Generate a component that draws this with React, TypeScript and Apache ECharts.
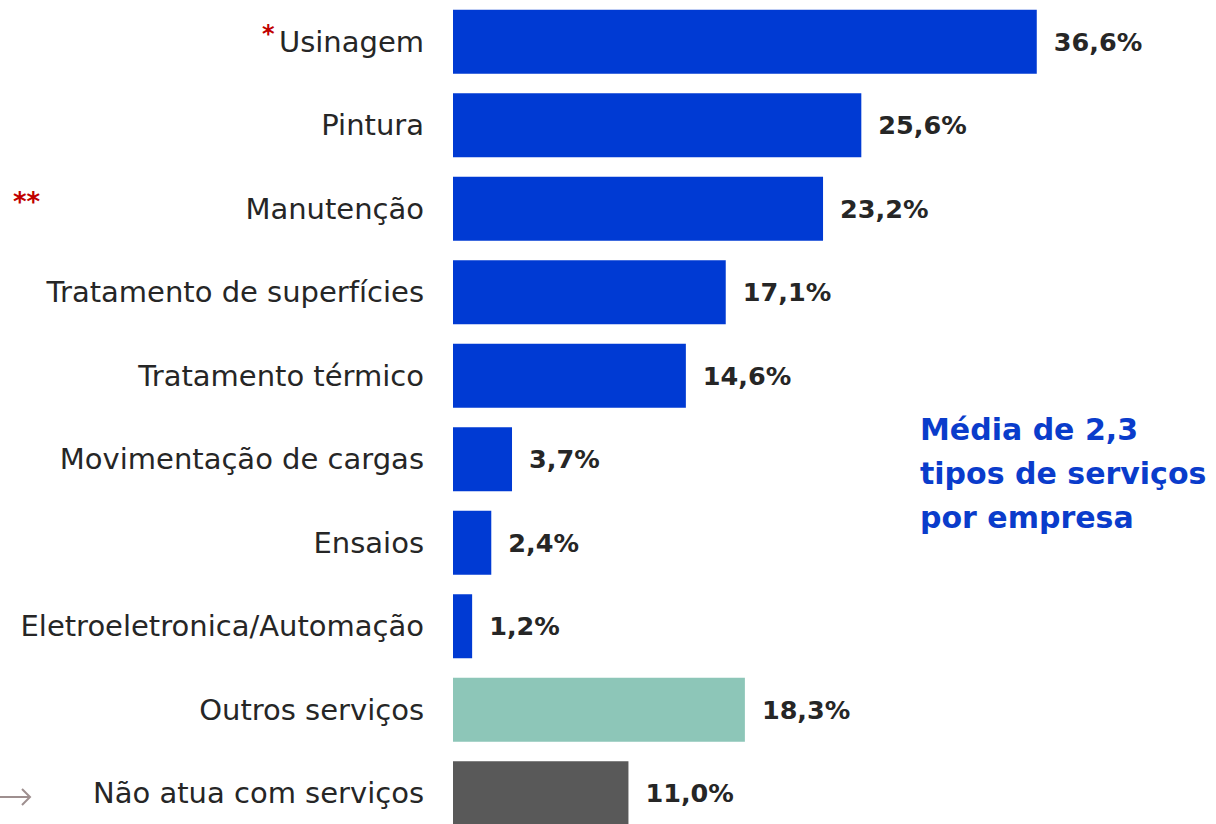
import React, { useEffect, useRef } from "react";
import * as echarts from "echarts";

const categories = [
  "Usinagem",
  "Pintura",
  "Manutenção",
  "Tratamento de superfícies",
  "Tratamento térmico",
  "Movimentação de cargas",
  "Ensaios",
  "Eletroeletronica/Automação",
  "Outros serviços",
  "Não atua com serviços",
];
const values = [36.6, 25.6, 23.2, 17.1, 14.6, 3.7, 2.4, 1.2, 18.3, 11.0];
const barColors = [
  "#003AD3", "#003AD3", "#003AD3", "#003AD3", "#003AD3",
  "#003AD3", "#003AD3", "#003AD3", "#8DC6B8", "#595959",
];
const noteLines = ["Média de 2,3", "tipos de serviços", "por empresa"];

const FONT = "'DejaVu Sans', sans-serif";

export default function App() {
  const ref = useRef<HTMLDivElement>(null);
  useEffect(() => {
    if (!ref.current) return;
    const chart = echarts.init(ref.current, null, { renderer: "svg" });
    chart.setOption({
      animation: false,
      grid: { left: 453, top: 0, width: 638, height: 835, containLabel: false },
      xAxis: {
        type: "value",
        min: 0,
        max: 40,
        show: false,
      },
      yAxis: {
        type: "category",
        data: categories,
        inverse: true,
        axisLine: { show: false },
        axisTick: { show: false },
        splitLine: { show: false },
        axisLabel: {
          margin: 29,
          color: "#262626",
          fontFamily: FONT,
          fontSize: 29,
        },
      },
      series: [
        {
          type: "bar",
          barWidth: 64,
          data: values.map((v, i) => ({ value: v, itemStyle: { color: barColors[i] } })),
          label: {
            show: true,
            position: "right",
            distance: 17,
            color: "#262626",
            fontFamily: FONT,
            fontWeight: "bold",
            fontSize: 25.5,
            formatter: (p: any) => p.value.toFixed(1).replace(".", ",") + "%",
          },
        },
      ],
      graphic: [
        {
          type: "text",
          left: 920,
          top: 407,
          style: {
            text: noteLines.join("\n"),
            fill: "#0A3CCB",
            font: `bold 30px ${FONT}`,
            lineHeight: 44,
          },
        },
        {
          type: "text",
          left: 262,
          top: 22,
          style: { text: "*", fill: "#C00000", font: `bold 24px ${FONT}` },
        },
        {
          type: "text",
          left: 13,
          top: 189,
          style: { text: "**", fill: "#C00000", font: `bold 26px ${FONT}` },
        },
        {
          type: "line",
          shape: { x1: 0, y1: 797, x2: 30, y2: 797 },
          style: { stroke: "#9E8F8F", lineWidth: 2 },
        },
        {
          type: "polyline",
          shape: { points: [[22, 789], [30, 797], [22, 805]] },
          style: { stroke: "#9E8F8F", lineWidth: 2, fill: null },
        },
      ],
    });
    return () => chart.dispose();
  }, []);
  return (
    <div
      ref={ref}
      style={{ position: "fixed", left: 0, top: 0, width: 1216, height: 835, background: "#fff" }}
    />
  );
}
